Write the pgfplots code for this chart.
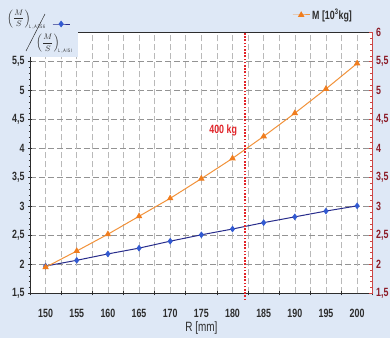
\documentclass[border=0pt]{standalone}
\usepackage{pgfplots}
\pgfplotsset{compat=1.18}
\usepackage{fontspec}
\setmainfont{Liberation Sans}[FakeStretch=0.74]
\definecolor{bg}{RGB}{222,232,246}
\definecolor{navy}{RGB}{40,45,140}
\definecolor{blmark}{RGB}{50,90,210}
\definecolor{orng}{RGB}{242,146,58}
\definecolor{omark}{RGB}{240,125,30}
\definecolor{dred}{RGB}{140,28,40}
\definecolor{rline}{RGB}{205,70,70}
\definecolor{vred}{RGB}{225,35,40}
\definecolor{txt}{RGB}{45,45,45}
\begin{document}
\begin{tikzpicture}[x=1bp,y=1bp]
\fill[bg] (-30,-44.7) rectangle (360,293.3);
\begin{axis}[
  at={(0,0)}, anchor=south west, scale only axis,
  width=342.7bp, height=260.6bp,
  xmin=147.5, xmax=202.5, ymin=1.5, ymax=6,
  axis background/.style={fill=white},
  clip=false,
  xtick={147.5,152.5,...,202.5}, xticklabels={},
  extra x ticks={150,155,...,200},
  extra x tick labels={150,155,160,165,170,175,180,185,190,195,200},
  extra x tick style={major tick length=0pt, grid=major},
  ytick={1.5,2,...,5.5}, minor y tick num=4,
  xtick pos=lower, ytick pos=left,
  xmajorgrids, ymajorgrids,
  x grid style={gray!55, line width=0.6bp, dash pattern=on 6bp off 3bp},
  y grid style={gray!85, line width=0.7bp, dash pattern=on 6bp off 3bp},
  axis line style={txt, line width=0.8bp},
  tick align=center,
  major tick length=4bp, minor tick length=2.5bp,
  tick style={txt, line width=0.6bp},
  /pgf/number format/assume math mode=true,
  yticklabel style={/pgf/number format/.cd, fixed, precision=1, use comma},
  ticklabel style={font=\fontsize{12}{13}\selectfont\bfseries, text=txt},
  xticklabel style={yshift=-12bp},
  xlabel={R [mm]},
  xlabel style={font=\fontsize{13.5}{15}\selectfont, text=txt, at={(axis description cs:0.5,0)}, anchor=center, yshift=-35bp},
  legend style={at={(0.064,1.0334)}, anchor=west, draw=none, fill=none, inner sep=0pt},
]
\addplot[navy, line width=1bp, mark=diamond*, mark size=2.6bp, mark options={fill=blmark, draw=blmark}] coordinates {
 (150,1.97) (155,2.07) (160,2.18) (165,2.28) (170,2.40) (175,2.51)
 (180,2.61) (185,2.72) (190,2.82) (195,2.92) (200,3.01)};
\addlegendentry{}
\fill[bg] (rel axis cs:-0.012,1.012) rectangle (axis cs:155.2,5.58);
\end{axis}
\begin{axis}[
  at={(0,0)}, anchor=south west, scale only axis,
  width=342.7bp, height=260.6bp,
  xmin=147.5, xmax=202.5, ymin=1.5, ymax=6,
  clip=false,
  axis x line=none, axis y line*=right,
  ytick={1.5,2,...,6}, minor y tick num=4,
  y axis line style={rline, line width=1bp, -},
  tick align=inside,
  major tick length=4bp, minor tick length=2.5bp,
  tick style={rline, line width=0.6bp},
  /pgf/number format/assume math mode=true,
  yticklabel style={/pgf/number format/.cd, fixed, precision=1, use comma},
  ticklabel style={font=\fontsize{12}{13}\selectfont\bfseries, text=dred},
  legend style={at={(0.7645,1.068)}, anchor=west, draw=none, fill=none, inner sep=0pt,
    font=\fontsize{12}{13}\selectfont\bfseries, text=txt},
]
\addplot[orng, line width=1bp, mark=triangle*, mark size=2.8bp, mark options={fill=omark, draw=omark}] coordinates {
 (150,1.95) (155,2.23) (160,2.52) (165,2.83) (170,3.14) (175,3.48)
 (180,3.83) (185,4.21) (190,4.61) (195,5.03) (200,5.47)};
\addlegendentry{M [10\textsuperscript{3}kg]}
\draw[vred, line width=1.6bp, dash pattern=on 1.6bp off 1.6bp] (axis cs:182,1.38) -- (axis cs:182,6);
\node[text=vred, font=\fontsize{12}{13}\selectfont\bfseries] at (axis cs:178.5,4.32) {400 kg};
\end{axis}
\node[anchor=west, inner sep=0pt, text=txt, font=\fontsize{8}{9}\selectfont] at (-23,274)
  {$\displaystyle\left(\frac{M}{S}\right)_{\!\scriptscriptstyle\mathrm{L,A356}}$};
\draw[txt, line width=0.5bp] (-4,242.3) -- (15,279.3);
\node[anchor=west, inner sep=0pt, text=txt, font=\fontsize{8}{9}\selectfont] at (6,249.3)
  {$\displaystyle\left(\frac{M}{S}\right)_{\!\scriptscriptstyle\mathrm{L,AISI}}$};
\pgfresetboundingbox
\path[use as bounding box] (-30,-44.7) rectangle (360,293.3);
\end{tikzpicture}
\end{document}
